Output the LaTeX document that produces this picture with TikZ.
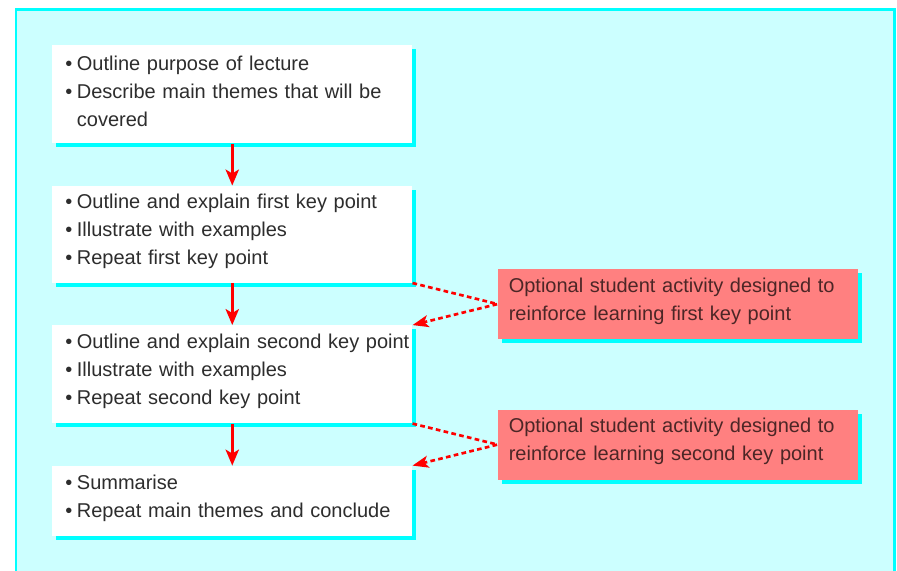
\documentclass[tikz,border=0pt]{standalone}
\usepackage{fontspec}
\setmainfont{Liberation Sans}
\usetikzlibrary{arrows.meta,shadows,positioning,calc}

\definecolor{panelbg}{RGB}{204,255,255}
\definecolor{panelrim}{RGB}{0,255,255}
\definecolor{notered}{RGB}{255,128,128}
\definecolor{inktext}{RGB}{45,45,45}

\newcommand{\bl}{\hspace*{9.75pt}\textbullet\hspace{3.5pt}}

\begin{document}
\begin{tikzpicture}[x=0.75pt, y=-0.75pt,
    stage/.style={rectangle, fill=white, text width=270pt, inner xsep=0pt, align=left,
        font=\fontsize{15pt}{21pt}\selectfont, text=inktext,
        execute at end node={\endgraf\vspace*{4.5pt}},
        drop shadow={shadow xshift=3pt, shadow yshift=-3pt, fill=panelrim, opacity=1}},
    extra/.style={rectangle, fill=notered, text width=253.5pt, inner xsep=8.25pt, align=left,
        minimum height=52.5pt, font=\fontsize{15pt}{21pt}\selectfont, text=inktext!85!red,
        execute at end node={\endgraf\vspace*{4.5pt}},
        drop shadow={shadow xshift=3pt, shadow yshift=-3pt, fill=panelrim, opacity=1}},
    flow/.style={draw=red, line width=2pt, -{Stealth[length=12pt, width=10pt, inset=3pt]}},
    hint/.style={draw=red, line width=2pt, dash pattern=on 3.5pt off 2.5pt,
        -{Stealth[length=12pt, width=9pt, inset=3pt]}}]
    \useasboundingbox (0,0) rectangle (897,571);
    \path[fill=panelbg, draw=panelrim, line width=2pt] (16,9.5) rectangle (894.5,590);

    \node[stage, minimum height=73.5pt, anchor=north west] (b0) at (52,45)
        {\bl Outline purpose of lecture\\ \bl Describe main themes that will be\\ \hphantom{\bl}covered};
    \node[stage, minimum height=72.75pt, below=31.5pt of b0] (b1)
        {\bl Outline and explain first key point\\ \bl Illustrate with examples\\ \bl Repeat first key point};
    \node[stage, minimum height=73.5pt, below=31.5pt of b1] (b2)
        {\bl Outline and explain second key point\\ \bl Illustrate with examples\\ \bl Repeat second key point};
    \node[stage, minimum height=52.5pt, below=31.5pt of b2] (b3)
        {\bl Summarise\\ \bl Repeat main themes and conclude};

    \coordinate (g1) at ($(b1.south east)!0.5!(b2.north east)$);
    \coordinate (g2) at ($(b2.south east)!0.5!(b3.north east)$);
    \node[extra, right=63.75pt of g1] (r1)
        {Optional student activity designed to\\ reinforce learning first key point};
    \node[extra, right=63.75pt of g2] (r2)
        {Optional student activity designed to\\ reinforce learning second key point};

    \path[flow] (b0)--(b1);
    \path[flow] (b1)--(b2);
    \path[flow] (b2)--(b3);
    \path[hint] (b1.south east)--(r1.west)--(b2.north east);
    \path[hint] (b2.south east)--(r2.west)--(b3.north east);
\end{tikzpicture}
\end{document}
